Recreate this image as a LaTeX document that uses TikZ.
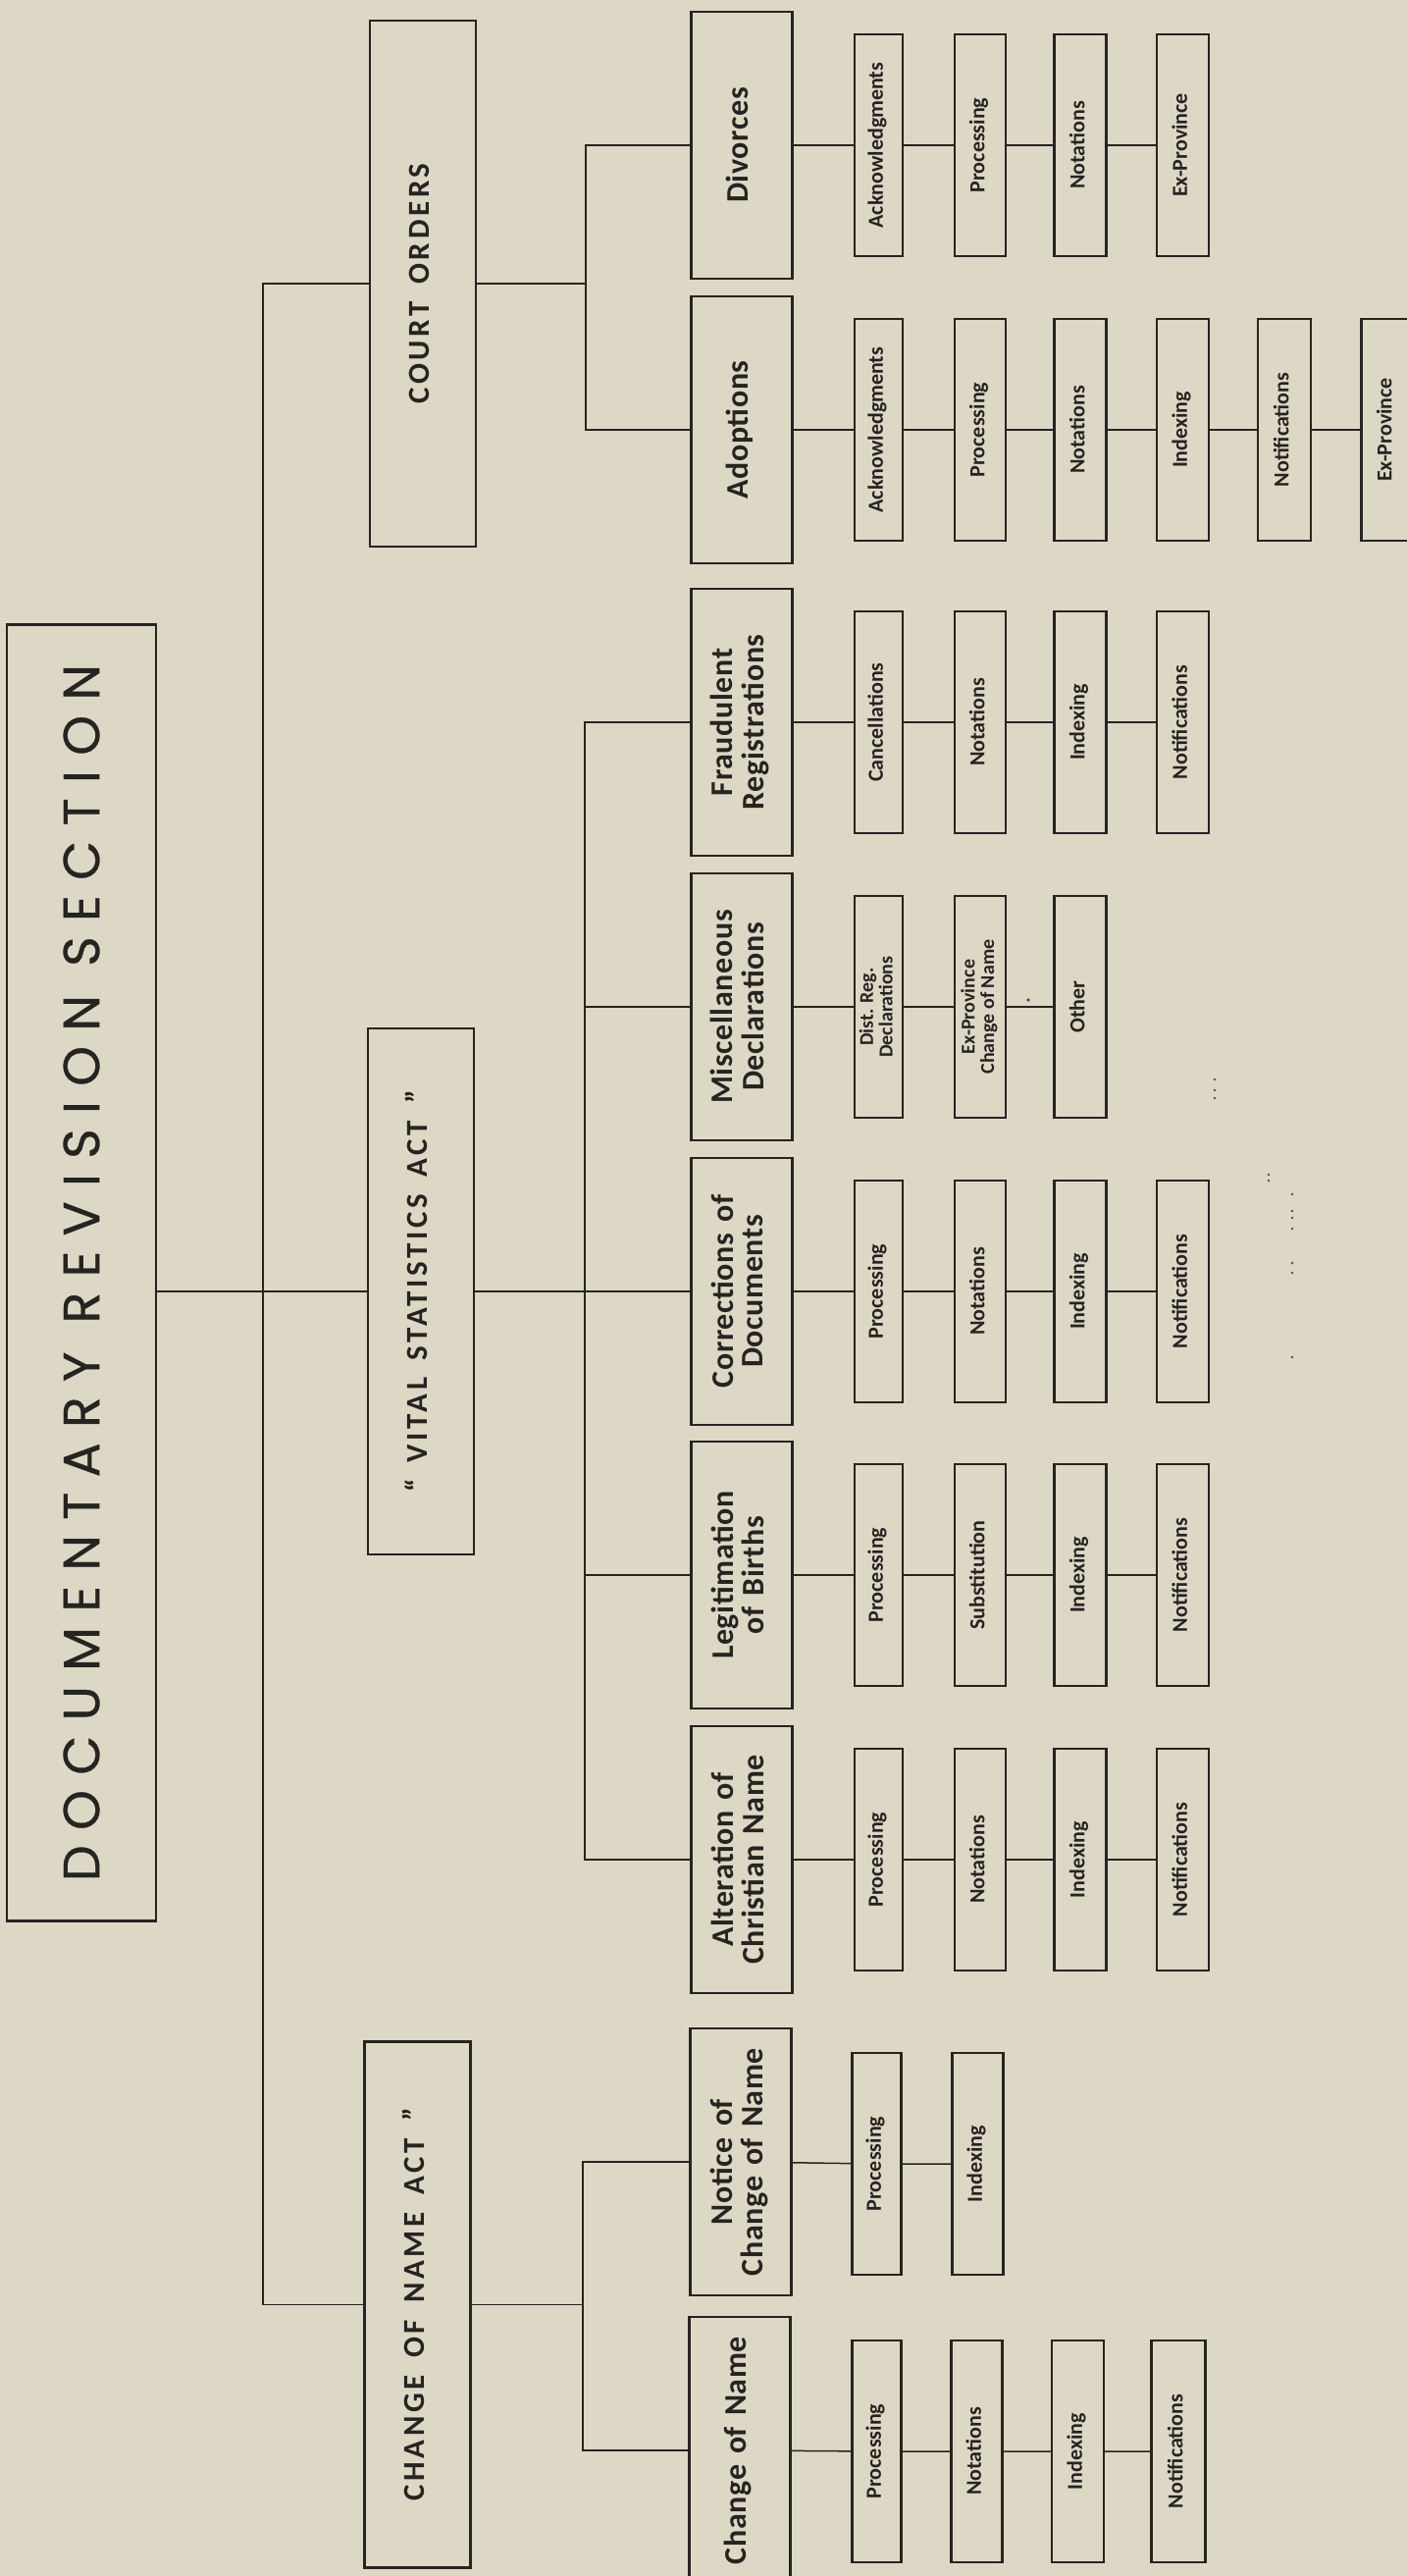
\documentclass[tikz,border=0pt]{standalone}
\usepackage{fontspec}
\usepackage{graphicx}
\newfontfamily\titlefont{Poppins}[LetterSpace=29.5,FakeBold=0.6]
\newfontfamily\actfont{Carlito}[LetterSpace=12,WordSpace=1.6]
\newfontfamily\unitfont{Carlito}[LetterSpace=2,WordSpace=1.4]
\newfontfamily\taskfont{Carlito}
\definecolor{paper}{RGB}{221,216,198}
\definecolor{ink}{RGB}{38,36,33}
% vertical (bottom-to-top) label, one or more centred lines
\newcommand{\vtext}[1]{\rotatebox{90}{\begin{tabular}{@{}c@{}}#1\end{tabular}}}

\tikzset{
  frame/.style={draw=ink, line width=2.2pt, inner sep=0pt, outer sep=0pt, text=ink},
  titlebox/.style={frame, minimum width=152pt, minimum height=1321pt,
    font=\titlefont\fontsize{52}{52}\selectfont},
  actbox/.style={frame, minimum width=108pt, minimum height=536pt,
    font=\actfont\bfseries\fontsize{31}{31}\selectfont},
  unitbox/.style={frame, minimum width=103pt, minimum height=272pt,
    font=\unitfont\bfseries\fontsize{32}{30}\selectfont},
  taskbox/.style={frame, minimum width=53pt, minimum height=226pt,
    font=\taskfont\bfseries\fontsize{22}{22}\selectfont},
  pairtask/.style={taskbox, font=\taskfont\bfseries\fontsize{20}{18.5}\selectfont},
  link/.style={draw=ink, line width=1.5pt},
  speck/.style={fill=ink!80},
}

\begin{document}
\begin{tikzpicture}[x=1pt, y=-1pt]
\useasboundingbox (0,0) rectangle (1434,2625);
\fill[paper] (0,0) rectangle (1434,2625);
\clip (0,0) rectangle (1434,2625);

% ---- section and acts
\node[titlebox] (doc) at (83,1297) {\rotatebox{90}{DOCUMENTARY REVISION SECTION}};
\node[actbox] (court) at (431,289) {\vtext{COURT ORDERS}};
\node[actbox] (vsa) at (429,1316) {\vtext{“ VITAL STATISTICS ACT ”}};
\node[actbox] (cna) at (425.5,2348.5) {\vtext{CHANGE OF NAME ACT ”}};

% ---- units
\node[unitbox] (div) at (756,148) {\vtext{Divorces}};
\node[unitbox] (ado) at (756,438) {\vtext{Adoptions}};
\node[unitbox] (fra) at (756,736) {\vtext{Fraudulent\\Registrations}};
\node[unitbox] (mis) at (756,1026) {\vtext{Miscellaneous\\Declarations}};
\node[unitbox] (cor) at (756,1316) {\vtext{Corrections of\\Documents}};
\node[unitbox] (leg) at (756,1605) {\vtext{Legitimation\\of Births}};
\node[unitbox] (alt) at (756,1895) {\vtext{Alteration of\\Christian Name}};
\node[unitbox] (noc) at (755,2203) {\vtext{Notice of\\Change of Name}};
\node[unitbox] (chn) at (754,2497) {\vtext{Change of Name}};

% ---- tasks: Divorces
\node[taskbox, minimum width=49pt] (div1) at (895.5,148) {\vtext{Acknowledgments}};
\node[taskbox, minimum width=52pt] (div2) at (999,148) {\vtext{Processing}};
\node[taskbox] (div3) at (1101,148) {\vtext{Notations}};
\node[taskbox] (div4) at (1205.5,148) {\vtext{Ex-Province}};
% Adoptions
\node[taskbox, minimum width=49pt] (ado1) at (895.5,438) {\vtext{Acknowledgments}};
\node[taskbox, minimum width=52pt] (ado2) at (999,438) {\vtext{Processing}};
\node[taskbox] (ado3) at (1101,438) {\vtext{Notations}};
\node[taskbox] (ado4) at (1205.5,438) {\vtext{Indexing}};
\node[taskbox, minimum width=54pt] (ado5) at (1309,438) {\vtext{Notifications}};
\node[taskbox] (ado6) at (1414,438) {\vtext{Ex-Province}};
% Fraudulent Registrations
\node[taskbox, minimum width=49pt] (fra1) at (895.5,736) {\vtext{Cancellations}};
\node[taskbox, minimum width=52pt] (fra2) at (999,736) {\vtext{Notations}};
\node[taskbox] (fra3) at (1101,736) {\vtext{Indexing}};
\node[taskbox] (fra4) at (1205.5,736) {\vtext{Notifications}};
% Miscellaneous Declarations
\node[pairtask, minimum width=49pt] (mis1) at (895.5,1026) {\vtext{Dist. Reg.\\Declarations}};
\node[pairtask, minimum width=52pt] (mis2) at (999,1026) {\vtext{Ex-Province\\Change of Name}};
\node[taskbox] (mis3) at (1101,1026) {\vtext{Other}};
% Corrections of Documents
\node[taskbox, minimum width=49pt] (cor1) at (895.5,1316) {\vtext{Processing}};
\node[taskbox, minimum width=52pt] (cor2) at (999,1316) {\vtext{Notations}};
\node[taskbox] (cor3) at (1101,1316) {\vtext{Indexing}};
\node[taskbox] (cor4) at (1205.5,1316) {\vtext{Notifications}};
% Legitimation of Births
\node[taskbox, minimum width=49pt] (leg1) at (895.5,1605) {\vtext{Processing}};
\node[taskbox, minimum width=52pt] (leg2) at (999,1605) {\vtext{Substitution}};
\node[taskbox] (leg3) at (1101,1605) {\vtext{Indexing}};
\node[taskbox] (leg4) at (1205.5,1605) {\vtext{Notifications}};
% Alteration of Christian Name
\node[taskbox, minimum width=49pt] (alt1) at (895.5,1895) {\vtext{Processing}};
\node[taskbox, minimum width=52pt] (alt2) at (999,1895) {\vtext{Notations}};
\node[taskbox] (alt3) at (1101,1895) {\vtext{Indexing}};
\node[taskbox] (alt4) at (1205.5,1895) {\vtext{Notifications}};
% Notice of Change of Name
\node[taskbox, minimum width=50pt] (noc1) at (893.5,2205) {\vtext{Processing}};
\node[taskbox, minimum width=52pt] (noc2) at (996.5,2205) {\vtext{Indexing}};
% Change of Name
\node[taskbox, minimum width=50pt] (chn1) at (893.5,2498) {\vtext{Processing}};
\node[taskbox, minimum width=52pt] (chn2) at (995.5,2498) {\vtext{Notations}};
\node[taskbox] (chn3) at (1098.5,2498) {\vtext{Indexing}};
\node[taskbox, minimum width=55pt] (chn4) at (1201,2498) {\vtext{Notifications}};

% ---- trunk
\coordinate (spine) at (268,1316);
\draw[link] (doc.east |- vsa.west) -- (vsa.west);
\draw[link] (court.west) -| (spine) |- (cna.west);

% ---- court orders branch
\coordinate (cbus) at (597,289);
\draw[link] (court.east) -- (cbus);
\draw[link] (div.west) -| (cbus) |- (ado.west);

% ---- vital statistics branch
\coordinate (vbus) at (596,1316);
\draw[link] (vsa.east) -- (cor.west);
\draw[link] (fra.west) -| (vbus) |- (alt.west);
\draw[link] (mis.west) -- (mis.west -| vbus);
\draw[link] (leg.west) -- (leg.west -| vbus);

% ---- change of name branch
\coordinate (nbus) at (594,2348.5);
\draw[link] (cna.east) -- (nbus);
\draw[link] (noc.west) -| (nbus) |- (chn.west);

% ---- task chains
\draw[link] (div) -- (div1) -- (div2) -- (div3) -- (div4);
\draw[link] (ado) -- (ado1) -- (ado2) -- (ado3) -- (ado4) -- (ado5) -- (ado6);
\draw[link] (fra) -- (fra1) -- (fra2) -- (fra3) -- (fra4);
\draw[link] (mis) -- (mis1) -- (mis2) -- (mis3);
\draw[link] (cor) -- (cor1) -- (cor2) -- (cor3) -- (cor4);
\draw[link] (leg) -- (leg1) -- (leg2) -- (leg3) -- (leg4);
\draw[link] (alt) -- (alt1) -- (alt2) -- (alt3) -- (alt4);
\draw[link] (noc) -- (noc1) -- (noc2);
\draw[link] (chn) -- (chn1) -- (chn2) -- (chn3) -- (chn4);

% ---- small printed specks
\fill[speck] (1048,1019) circle (1.8);
\foreach \p in {(1238,1100),(1238,1111),(1238,1119),(1293,1197),(1293,1203),
                (1317,1217),(1317,1234),(1317,1241),(1317,1252),(1317,1287),
                (1317,1297),(1317,1383)}
  \fill[speck] \p circle (1.3);
\end{tikzpicture}
\end{document}
